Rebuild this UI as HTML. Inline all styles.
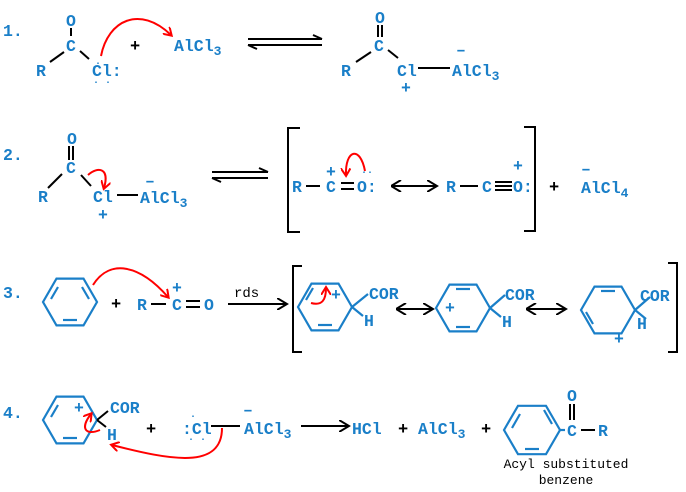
<!DOCTYPE html>
<html><head><meta charset="utf-8"><style>
html,body{margin:0;padding:0;background:#fff}
svg{display:block}
.t{font-family:"Liberation Mono",monospace;font-weight:bold;font-size:16.5px;fill:#1a7fc8}
.k{font-family:"Liberation Mono",monospace;font-weight:bold;font-size:17px;fill:#000}
.s{font-family:"Liberation Mono",monospace;font-size:14px;fill:#000}
.b{stroke:#000;stroke-width:2;fill:none}
.r{stroke:#1a7fc8;stroke-width:2.2;fill:none}
.red{stroke:#f00;stroke-width:2;fill:none}
</style></head><body>
<svg width="686" height="492" viewBox="0 0 686 492" xmlns="http://www.w3.org/2000/svg">
<defs>
<marker id="ra" markerWidth="10" markerHeight="10" refX="7" refY="5" orient="auto" markerUnits="userSpaceOnUse"><path d="M0,0 L8,5 L0,10" fill="none" stroke="#f00" stroke-width="2"/></marker>
<marker id="ba" markerWidth="12" markerHeight="12" refX="9" refY="6" orient="auto" markerUnits="userSpaceOnUse"><path d="M0,0 L10,6 L0,12" fill="none" stroke="#000" stroke-width="2"/></marker>
<marker id="bs" markerWidth="12" markerHeight="12" refX="1" refY="6" orient="auto" markerUnits="userSpaceOnUse"><path d="M10,0 L0,6 L10,12" fill="none" stroke="#000" stroke-width="2"/></marker>
</defs>
<!-- Row 1 -->
<text class="t" x="3" y="36">1.</text>
<text class="t" x="66" y="26">O</text>
<line class="b" x1="71" y1="28" x2="71" y2="36"/>
<text class="t" x="66" y="51">C</text>
<line class="b" x1="64" y1="52" x2="50" y2="62"/>
<line class="b" x1="80" y1="51" x2="89" y2="59"/>
<text class="t" x="36" y="76">R</text>
<text class="t" x="92" y="76">Cl:</text>
<text class="t" x="95" y="66" style="font-size:10px">·</text>
<text class="t" x="93" y="85" style="font-size:10px">· ·</text>
<path class="red" d="M101,56 C108,20 140,5 171,35" marker-end="url(#ra)"/>
<text class="k" x="130" y="51">+</text>
<text class="t" x="174" y="51">AlCl<tspan dy="4" font-size="13">3</tspan></text>
<line class="b" x1="248" y1="39" x2="322" y2="39"/><path class="b" d="M313,35 L322,39"/>
<line class="b" x1="248" y1="45" x2="322" y2="45"/><path class="b" d="M257,49 L248,45"/>
<text class="t" x="375" y="23">O</text>
<line class="b" x1="378" y1="25" x2="378" y2="37"/><line class="b" x1="382" y1="25" x2="382" y2="37"/>
<text class="t" x="374" y="51">C</text>
<line class="b" x1="371" y1="52" x2="356" y2="62"/>
<line class="b" x1="388" y1="50" x2="398" y2="58"/>
<text class="t" x="341" y="76">R</text>
<text class="t" x="397" y="76">Cl</text>
<line class="b" x1="418" y1="68" x2="450" y2="68"/>
<text class="t" x="452" y="76">AlCl<tspan dy="4" font-size="13">3</tspan></text>
<text class="t" x="456" y="55">–</text>
<text class="t" x="401" y="93">+</text>
<!-- Row 2 -->
<text class="t" x="3" y="160">2.</text>
<text class="t" x="67" y="144">O</text>
<line class="b" x1="69" y1="146" x2="69" y2="160"/><line class="b" x1="73" y1="146" x2="73" y2="160"/>
<text class="t" x="66" y="173">C</text>
<line class="b" x1="62" y1="174" x2="48" y2="188"/>
<line class="b" x1="81" y1="175" x2="91" y2="186"/>
<text class="t" x="38" y="202">R</text>
<text class="t" x="93" y="202">Cl</text>
<text class="t" x="98" y="220">+</text>
<line class="b" x1="117" y1="195" x2="138" y2="195"/>
<text class="t" x="140" y="203">AlCl<tspan dy="4" font-size="13">3</tspan></text>
<text class="t" x="145" y="186">–</text>
<path class="red" d="M88,175 C98,166 110,168 104,188" marker-end="url(#ra)"/>
<line class="b" x1="212" y1="172" x2="268" y2="172"/><path class="b" d="M259,168 L268,172"/>
<line class="b" x1="212" y1="178" x2="268" y2="178"/><path class="b" d="M221,182 L212,178"/>
<path class="b" d="M300,128 L288,128 L288,232 L300,232"/>
<text class="t" x="292" y="192">R</text>
<line class="b" x1="306" y1="186" x2="320" y2="186"/>
<text class="t" x="326" y="192">C</text>
<text class="t" x="326" y="177">+</text>
<line class="b" x1="341" y1="183" x2="354" y2="183"/><line class="b" x1="341" y1="189" x2="354" y2="189"/>
<text class="t" x="357" y="192">O:</text>
<text class="t" x="361" y="175" style="font-size:10px">··</text>
<path class="red" d="M365,171 C360,145 345,150 346,175" marker-end="url(#ra)"/>
<line class="b" x1="392" y1="186" x2="436" y2="186" marker-start="url(#bs)" marker-end="url(#ba)"/>
<text class="t" x="446" y="192">R</text>
<line class="b" x1="460" y1="186" x2="478" y2="186"/>
<text class="t" x="482" y="192">C</text>
<line class="b" x1="495" y1="182" x2="512" y2="182"/><line class="b" x1="495" y1="186" x2="512" y2="186"/><line class="b" x1="495" y1="190" x2="512" y2="190"/>
<text class="t" x="513" y="192">O:</text>
<text class="t" x="513" y="171">+</text>
<path class="b" d="M524,127 L535,127 L535,231 L524,231"/>
<text class="k" x="549" y="192">+</text>
<text class="t" x="581" y="174">–</text>
<text class="t" x="581" y="193">AlCl<tspan dy="4" font-size="13">4</tspan></text>
<!-- Row 3 -->
<text class="t" x="3" y="298">3.</text>
<polygon class="r" points="43,302 56.5,278.6 83.5,278.6 97,302 83.5,325.4 56.5,325.4"/>
<line class="r" x1="58" y1="287" x2="51" y2="299"/><line class="r" x1="82" y1="287" x2="89" y2="299"/><line class="r" x1="63" y1="320" x2="77" y2="320"/>
<path class="red" d="M93,285 C110,258 140,265 168,297" marker-end="url(#ra)"/>
<text class="k" x="111" y="309">+</text>
<text class="t" x="137" y="310">R</text>
<line class="b" x1="151" y1="304" x2="166" y2="304"/>
<text class="t" x="172" y="310">C</text>
<text class="t" x="172" y="293">+</text>
<line class="b" x1="186" y1="301" x2="200" y2="301"/><line class="b" x1="186" y1="307" x2="200" y2="307"/>
<text class="t" x="204" y="310">O</text>
<line class="b" x1="228" y1="304" x2="286" y2="304" marker-end="url(#ba)"/>
<text class="s" x="234" y="297">rds</text>
<path class="b" d="M302,266 L293,266 L293,352 L302,352"/>
<polygon class="r" points="298,307 311.5,283.6 338.5,283.6 352,307 338.5,330.4 311.5,330.4"/>
<line class="r" x1="313" y1="288" x2="306" y2="300"/><line class="r" x1="318" y1="325" x2="332" y2="325"/>
<path class="red" d="M311,303 C322,306 326,300 326,288" marker-end="url(#ra)"/>
<text class="t" x="331" y="300">+</text>
<line class="r" x1="352" y1="307" x2="368" y2="294"/><line class="r" x1="352" y1="307" x2="363" y2="316"/>
<text class="t" x="369" y="299">COR</text>
<text class="t" x="364" y="326">H</text>
<line class="b" x1="397" y1="309" x2="432" y2="309" marker-start="url(#bs)" marker-end="url(#ba)"/>
<polygon class="r" points="436,308 449.5,284.6 476.5,284.6 490,308 476.5,331.4 449.5,331.4"/>
<line class="r" x1="456" y1="289" x2="470" y2="289"/><line class="r" x1="456" y1="327" x2="470" y2="327"/>
<text class="t" x="445" y="313">+</text>
<line class="r" x1="490" y1="308" x2="505" y2="295"/><line class="r" x1="490" y1="308" x2="501" y2="317"/>
<text class="t" x="505" y="300">COR</text>
<text class="t" x="502" y="327">H</text>
<line class="b" x1="527" y1="309" x2="565" y2="309" marker-start="url(#bs)" marker-end="url(#ba)"/>
<polygon class="r" points="581,310 594.5,286.6 621.5,286.6 635,310 621.5,333.4 594.5,333.4"/>
<line class="r" x1="601" y1="291" x2="615" y2="291"/><line class="r" x1="586" y1="312" x2="593" y2="324"/>
<line class="r" x1="635" y1="310" x2="650" y2="297"/><line class="r" x1="635" y1="310" x2="646" y2="319"/>
<text class="t" x="640" y="301">COR</text>
<text class="t" x="637" y="329">H</text>
<text class="t" x="614" y="344">+</text>
<path class="b" d="M668,263 L677,263 L677,352 L668,352"/>
<!-- Row 4 -->
<text class="t" x="3" y="418">4.</text>
<polygon class="r" points="43,420 56.5,396.6 83.5,396.6 97,420 83.5,443.4 56.5,443.4"/>
<line class="r" x1="51" y1="417" x2="58" y2="405"/><line class="r" x1="63" y1="438" x2="77" y2="438"/>
<text class="t" x="74" y="413">+</text>
<line class="b" x1="97" y1="420" x2="108" y2="411"/><line class="b" x1="97" y1="420" x2="106" y2="427"/>
<text class="t" x="110" y="413">COR</text>
<text class="t" x="107" y="440">H</text>
<path class="red" d="M100,430 C85,436 80,428 91,414" marker-end="url(#ra)"/>
<text class="k" x="146" y="434">+</text>
<text class="t" x="182" y="434">:Cl</text>
<text class="t" x="190" y="419" style="font-size:10px">·</text>
<text class="t" x="188" y="442" style="font-size:10px">· ·</text>
<line class="b" x1="211" y1="426" x2="240" y2="426"/>
<text class="t" x="244" y="434">AlCl<tspan dy="4" font-size="13">3</tspan></text>
<text class="t" x="243" y="415">–</text>
<path class="red" d="M222,428 C222,470 170,460 112,445" marker-end="url(#ra)"/>
<line class="b" x1="301" y1="426" x2="348" y2="426" marker-end="url(#ba)"/>
<text class="t" x="352" y="434">HCl</text>
<text class="k" x="398" y="434">+</text>
<text class="t" x="418" y="434">AlCl<tspan dy="4" font-size="13">3</tspan></text>
<text class="k" x="481" y="434">+</text>
<polygon class="r" points="504,430 518,405.8 546,405.8 560,430 546,454.2 518,454.2"/>
<line class="r" x1="544" y1="410" x2="552" y2="424"/><line class="r" x1="525" y1="449" x2="539" y2="449"/><line class="r" x1="512" y1="428" x2="520" y2="414"/>
<line class="r" x1="560" y1="430" x2="565" y2="430"/>
<text class="t" x="567" y="436">C</text>
<line class="b" x1="570" y1="404" x2="570" y2="420"/><line class="b" x1="574" y1="404" x2="574" y2="420"/>
<text class="t" x="567" y="401">O</text>
<line class="b" x1="581" y1="430" x2="595" y2="430"/>
<text class="t" x="598" y="436">R</text>
<text class="s" x="566" y="468" text-anchor="middle" style="font-size:13px">Acyl substituted</text>
<text class="s" x="566" y="484" text-anchor="middle" style="font-size:13px">benzene</text>
</svg>
</body></html>
